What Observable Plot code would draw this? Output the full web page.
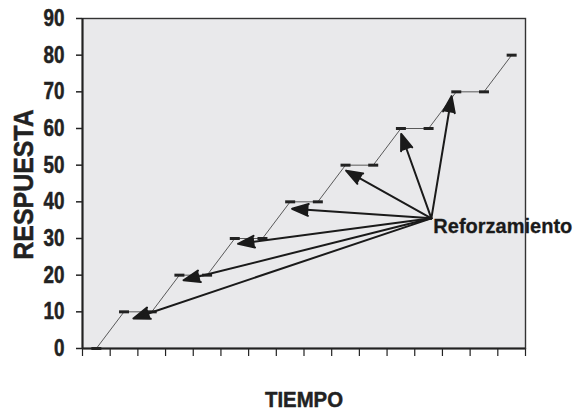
<!DOCTYPE html>
<html><head><meta charset="utf-8">
<script src="https://cdn.jsdelivr.net/npm/d3@7"></script>
<script src="https://cdn.jsdelivr.net/npm/@observablehq/plot@0.6"></script>
<style>body{margin:0;background:#fff;} svg{display:block;}</style>
</head><body><div id="chart"></div>
<script>
// Data
const tiempo = [0.5,1.5,2.5,3.5,4.5,5.5,6.5,7.5,8.5,9.5,10.5,11.5,12.5,13.5,14.5,15.5];
const respuesta = [0,10,10,20,20,30,30,40,40,50,50,60,60,70,70,80];
const refuerzoOrigen = {x: 12.6, y: 35.5, label: "Reforzamiento"};
const flechaX = [1.84, 3.65, 5.62, 7.57, 9.52, 11.51, 13.33];
const flechaY = [8.2, 18.6, 28.55, 38.1, 48.5, 58.5, 68.8];
const yTicks = [0,10,20,30,40,50,60,70,80,90];
const xTicks = d3.range(0, 17);
const tituloX = "TIEMPO";
const tituloY = "RESPUESTA";

const serie = tiempo.map((t, i) => ({t, r: respuesta[i]}));
const flechas = flechaX.map((x, i) => ({x1: refuerzoOrigen.x, y1: refuerzoOrigen.y, x2: x, y2: flechaY[i]}));

const sans = "'Liberation Sans', Arial, Helvetica, sans-serif";
const dash = {draw(ctx) { ctx.rect(-5, -1.5, 10, 3); }};

const chart = Plot.plot({
  width: 578, height: 411,
  marginLeft: 82, marginRight: 53, marginTop: 18, marginBottom: 63,
  style: {fontFamily: sans, fontWeight: "bold", color: "#222", background: "#fff"},
  x: {domain: [0, 16]},
  y: {domain: [0, 90]},
  marks: [
    Plot.frame({fill: "#e9e9eb", stroke: null}),
    Plot.axisY({ticks: yTicks, tickSize: 6, tickPadding: 12, fontSize: 23, fontWeight: "bold", fontFamily: sans, label: null, stroke: "#222", strokeWidth: 1.5, color: "#222"}),
    Plot.axisX({ticks: xTicks, tickSize: 8, tickFormat: () => "", label: null, stroke: "#222", strokeWidth: 1.2}),
    Plot.line(serie, {x: "t", y: "r", stroke: "#333", strokeWidth: 0.8}),
    Plot.dot(serie, {x: "t", y: "r", symbol: dash, fill: "#222", stroke: null, r: 3}),
    Plot.arrow(flechas, {x1: "x1", y1: "y1", x2: "x2", y2: "y2", stroke: "#1a1a1a", strokeWidth: 2, headLength: 13, headAngle: 40}),
    Plot.text([refuerzoOrigen], {x: "x", y: "y", text: "label", textAnchor: "start", lineAnchor: "top", dx: 2, fontSize: 20, fontWeight: "bold", fontFamily: sans, fill: "#1a1a1a", stroke: "#1a1a1a", strokeWidth: 0.3}),
    Plot.frame({stroke: "#333", strokeWidth: 1.4}),
    Plot.ruleX([0], {stroke: "#222", strokeWidth: 2}),
    Plot.ruleY([0], {stroke: "#222", strokeWidth: 2}),
    Plot.text([tituloY], {frameAnchor: "left", textAnchor: "middle", rotate: -90, dx: -50, dy: 1, lineAnchor: "bottom", fontSize: 28, fontWeight: "bold", fill: "#222", stroke: "#222", strokeWidth: 0.5, text: d => d}),
    Plot.text([tituloX], {frameAnchor: "bottom", textAnchor: "middle", dy: 58.5, lineAnchor: "bottom", fontSize: 23, fontWeight: "bold", fill: "#222", stroke: "#222", strokeWidth: 0.5, text: d => d})
  ]
});
document.getElementById("chart").appendChild(chart);

// fill arrowheads (the head subpath closes into a triangle)
d3.select(chart).selectAll('g[aria-label="arrow"] path').attr("fill", "#1a1a1a").attr("stroke-linejoin", "miter");

// condense text horizontally around its anchor (the reference uses a condensed face)
function condense(el, s) {
  let t = el.getAttribute("transform");
  if (!t) {
    const x = +el.getAttribute("x") || 0, y = +el.getAttribute("y") || 0;
    el.removeAttribute("x"); el.removeAttribute("y");
    t = `translate(${x},${y})`;
  }
  el.setAttribute("transform", `${t} scale(${s},1)`);
}
d3.select(chart).selectAll('g[aria-label="y-axis tick label"] text').each(function(){
  condense(this, 0.82);
  this.setAttribute("stroke", "#222");
  this.setAttribute("stroke-width", "0.5");
});
d3.select(chart).selectAll("text").each(function(){
  if (this.textContent === tituloY) condense(this, 0.89);
  if (this.textContent === tituloX) condense(this, 0.885);
});
</script>
</body></html>
